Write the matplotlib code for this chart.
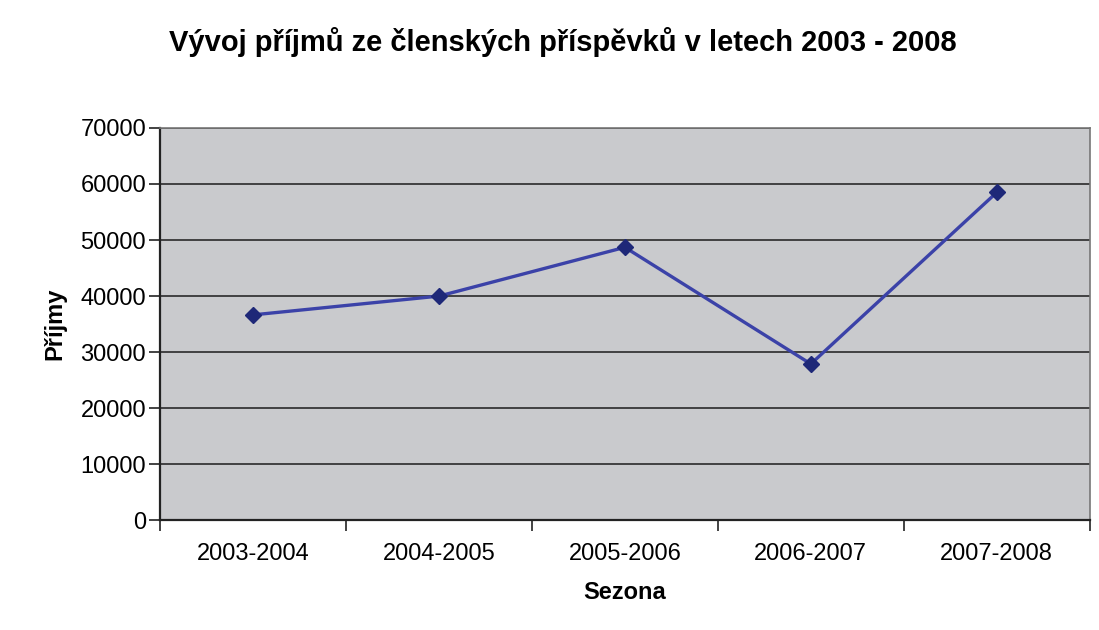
import matplotlib
matplotlib.use("Agg")
from matplotlib import pyplot as plt
import numpy as np

plt.rcParams["font.family"] = ["Liberation Sans", "DejaVu Sans"]

sezony = ["2003-2004", "2004-2005", "2005-2006", "2006-2007", "2007-2008"]
prijmy = [36650, 40000, 48700, 27900, 58500]
y_ticks = [0, 10000, 20000, 30000, 40000, 50000, 60000, 70000]

fig = plt.figure(figsize=(10.99, 6.30), dpi=100)
ax = fig.add_axes([0.1456, 0.174, 0.846, 0.623])
ax.set_facecolor("#c9cacd")

x = np.arange(len(sezony))
ax.plot(x, prijmy, color="#3b42a8", linewidth=2.4, marker="D",
        markersize=8, markerfacecolor="#1e2878", markeredgecolor="#1e2878", zorder=3)

ax.set_xlim(-0.5, len(sezony) - 0.5)
ax.set_ylim(0, 70000)
ax.set_yticks(y_ticks)
ax.set_yticklabels([str(v) for v in y_ticks])
ax.grid(axis="y", color="#2a2a2a", linewidth=1.2)
ax.set_axisbelow(True)

# popisky kategorii bez ticku, ticky na hranicich
ax.set_xticks(x)
ax.set_xticklabels(sezony)
ax.set_xticks(np.arange(-0.5, len(sezony)), minor=True)
ax.tick_params(axis="x", which="major", length=0, pad=16, labelsize=17)
ax.tick_params(axis="x", which="minor", length=8, width=1.2, color="#222222")
ax.tick_params(axis="y", length=8, width=1.2, color="#222222", pad=2, labelsize=17)

for s in ["left", "bottom"]:
    ax.spines[s].set_color("#222222")
    ax.spines[s].set_linewidth(1.6)
for s in ["top", "right"]:
    ax.spines[s].set_color("#777777")
    ax.spines[s].set_linewidth(1.2)

ax.set_xlabel("Sezona", fontsize=17, fontweight="bold", labelpad=12)
ax.set_ylabel("Příjmy", fontsize=17, fontweight="bold", labelpad=10)
fig.text(0.512, 0.933, "Vývoj příjmů ze členských příspěvků v letech 2003 - 2008",
         ha="center", va="center", fontsize=21, fontweight="bold")

fig.savefig("out.png", dpi=100, facecolor="white")
